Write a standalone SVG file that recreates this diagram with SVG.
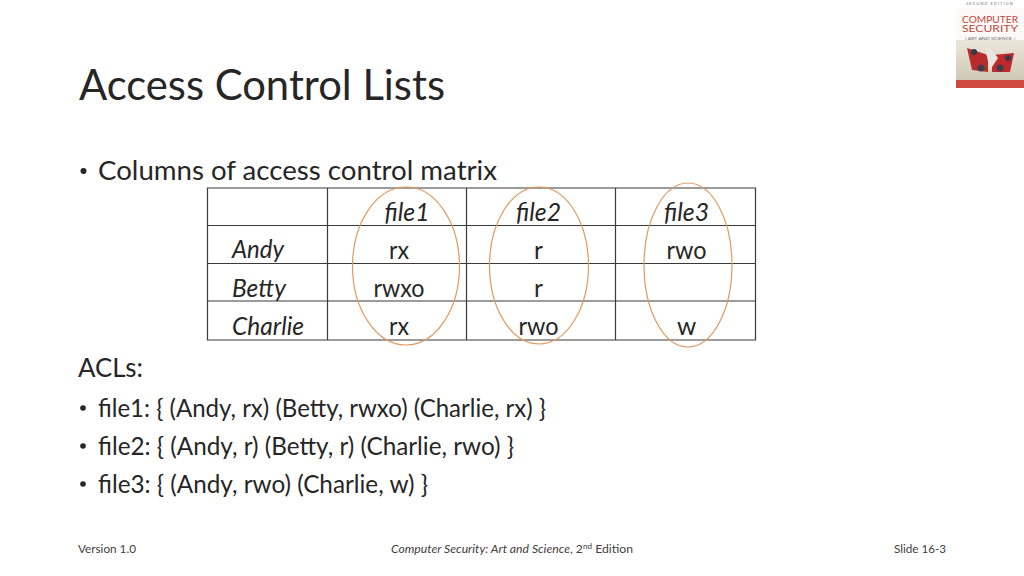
<svg xmlns="http://www.w3.org/2000/svg" width="1024" height="576" viewBox="0 0 1024 576">
<style>
text{font-family:Lato,"Open Sans","Liberation Sans",sans-serif;fill:#262626}
.t{font-size:24.5px;text-anchor:middle}
.n{font-size:24.5px}
.i{font-style:italic}
.b{font-size:26.5px}
.f{font-size:12px;fill:#404040}
.g{stroke:#3a3a3a;stroke-width:1.2;fill:none}
.e{fill:none;stroke:#e2995f;stroke-width:1.2}
</style>
<defs>
<linearGradient id="cover" x1="0" y1="0" x2="0" y2="1"><stop offset="0" stop-color="#f4f1ea"/><stop offset=".45" stop-color="#e9e4d8"/><stop offset="1" stop-color="#c9c2ae"/></linearGradient>
</defs>
<rect width="1024" height="576" fill="#fff"/>
<g id="logo">
<rect x="956" y="8" width="68" height="80" fill="url(#cover)"/>
<rect x="956" y="8" width="68" height="32" fill="#fbfaf6"/>
<text x="990" y="5" text-anchor="middle" style="font-size:4px;letter-spacing:1px;fill:#777">SECOND EDITION</text>
<text x="990" y="23" text-anchor="middle" textLength="56" lengthAdjust="spacingAndGlyphs" style="font-size:9px;fill:#c8423f">COMPUTER</text>
<text x="990" y="32" text-anchor="middle" textLength="56" lengthAdjust="spacingAndGlyphs" style="font-size:9px;fill:#c8423f">SECURITY</text>
<text x="990" y="40" text-anchor="middle" textLength="50" lengthAdjust="spacingAndGlyphs" style="font-size:4.5px;fill:#666">[ ART AND SCIENCE ]</text>
<path d="M967 48 L988 55 L988 72 L972 70 Z" fill="#b92c2c"/>
<path d="M1014 53 L992 55 L992 72 L1010 72 Z" fill="#c0282c"/>
<path d="M985 48 L992 50 L998 58 L990 70 Z" fill="#e8e6e0"/>
<circle cx="974" cy="52" r="3" fill="#33384a"/><circle cx="1008" cy="58" r="3" fill="#33384a"/>
<circle cx="981" cy="68" r="3.5" fill="#3d3e48"/><circle cx="1000" cy="68" r="3.5" fill="#3d3e48"/>
<rect x="956" y="80" width="68" height="8" fill="#cf4a40"/>
</g>
<g id="title"><text x="79" y="100" textLength="366" lengthAdjust="spacingAndGlyphs" style="font-size:42px">Access Control Lists</text></g>
<g id="matrix">
<path class="g" d="M207.500 188H755.500V340H207.500ZM207.500 225.500H755.500M207.500 263.500H755.500M207.500 301H755.500M327.500 188V340M466.500 188V340M615.500 188V340"/>
<text class="n i" x="232" y="258" textLength="52" lengthAdjust="spacingAndGlyphs">Andy</text>
<text class="n i" x="232" y="297" textLength="54" lengthAdjust="spacingAndGlyphs">Betty</text>
<text class="n i" x="232" y="335" textLength="72" lengthAdjust="spacingAndGlyphs">Charlie</text>
<text class="t i" x="407" y="221" textLength="45" lengthAdjust="spacingAndGlyphs">file1</text>
<text class="t i" x="538.500" y="221" textLength="45" lengthAdjust="spacingAndGlyphs">file2</text>
<text class="t i" x="686.500" y="221" textLength="45" lengthAdjust="spacingAndGlyphs">file3</text>
<text class="t" x="399" y="259" textLength="20" lengthAdjust="spacingAndGlyphs">rx</text>
<text class="t" x="399" y="297" textLength="51" lengthAdjust="spacingAndGlyphs">rwxo</text>
<text class="t" x="399" y="335" textLength="20" lengthAdjust="spacingAndGlyphs">rx</text>
<text class="t" x="538.500" y="259">r</text>
<text class="t" x="538.500" y="297">r</text>
<text class="t" x="538.500" y="335" textLength="40" lengthAdjust="spacingAndGlyphs">rwo</text>
<text class="t" x="686.500" y="259" textLength="40" lengthAdjust="spacingAndGlyphs">rwo</text>
<text class="t" x="686.500" y="335">w</text>
</g>
<g id="ovals">
<ellipse class="e" cx="406" cy="266" rx="53.500" ry="79"/>
<ellipse class="e" cx="539" cy="265.500" rx="49.500" ry="78.500"/>
<ellipse class="e" cx="688" cy="265" rx="44" ry="82"/>
</g>
<g id="body">
<circle cx="83.500" cy="171" r="3" fill="#262626"/>
<text class="b" x="98" y="180" textLength="399" lengthAdjust="spacingAndGlyphs">Columns of access control matrix</text>
<text class="b" x="78" y="377" textLength="65" lengthAdjust="spacingAndGlyphs">ACLs:</text>
<circle cx="83" cy="408" r="2.800" fill="#262626"/>
<text class="n" x="98" y="417" textLength="448" lengthAdjust="spacingAndGlyphs">file1: { (Andy, rx) (Betty, rwxo) (Charlie, rx) }</text>
<circle cx="83" cy="446" r="2.800" fill="#262626"/>
<text class="n" x="98" y="455" textLength="416" lengthAdjust="spacingAndGlyphs">file2: { (Andy, r) (Betty, r) (Charlie, rwo) }</text>
<circle cx="83" cy="484" r="2.800" fill="#262626"/>
<text class="n" x="98" y="493" textLength="330" lengthAdjust="spacingAndGlyphs">file3: { (Andy, rwo) (Charlie, w) }</text>
</g>
<g id="footer">
<text class="f" x="78" y="553" textLength="58" lengthAdjust="spacingAndGlyphs">Version 1.0</text>
<text class="f" x="391" y="553" textLength="242" lengthAdjust="spacingAndGlyphs"><tspan font-style="italic">Computer Security: Art and Science</tspan>, 2<tspan font-size="8" dy="-4">nd</tspan><tspan dy="4"> Edition</tspan></text>
<text class="f" x="894" y="553" textLength="52" lengthAdjust="spacingAndGlyphs">Slide 16-3</text>
</g>
</svg>
